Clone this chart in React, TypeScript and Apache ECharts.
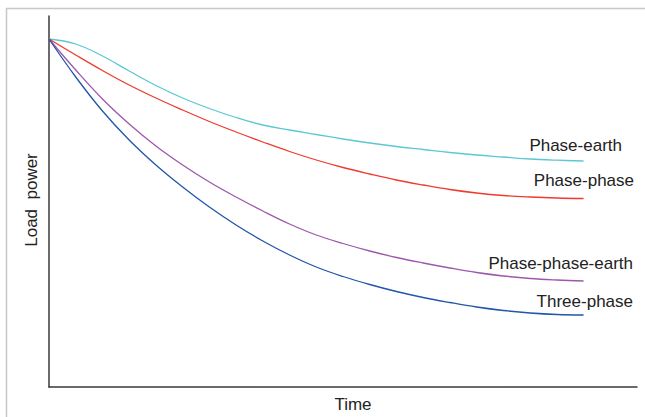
import React, { useEffect, useRef } from "react";
import * as echarts from "echarts";

const timeValues = [0, 5, 10, 15, 20, 25, 30, 35, 40, 45, 50, 55, 60, 65, 70, 75, 80, 85, 90, 95, 100];
const phaseEarth = [348, 343, 331, 316, 301.5, 289, 278.5, 269.5, 262, 257, 252.5, 248, 244, 240.5, 237.5, 234.5, 232, 230, 228, 226.8, 226];
const phasePhase = [348, 332, 316.5, 302, 289, 277, 265.5, 255, 245, 235.5, 227, 219.5, 213, 207, 202, 197.5, 194, 191.5, 190, 189, 188.5];
const phasePhaseEarth = [348, 317, 288, 263, 241, 222, 205, 190, 176, 163, 152, 143.5, 136, 129.5, 124, 119, 114.5, 111, 108.5, 107, 106];
const threePhase = [348, 310, 276, 247, 222, 200, 180, 162, 146, 132, 120, 110.5, 102.5, 95.5, 89.5, 84.5, 80, 76.5, 74, 72.5, 72];

const seriesNames = ["Phase-earth", "Phase-phase", "Phase-phase-earth", "Three-phase"];
const seriesColors = ["#5cc8d4", "#ef3b2e", "#9d58ad", "#2156a8"];
const seriesValues = [phaseEarth, phasePhase, phasePhaseEarth, threePhase];

export default function App() {
  const ref = useRef<HTMLDivElement>(null);
  useEffect(() => {
    if (!ref.current) return;
    const chart = echarts.init(ref.current, null, { renderer: "svg" });
    const font = "'Liberation Sans', Arial, sans-serif";
    const labelPos = [
      { x: 622, y: 145 },
      { x: 634, y: 180 },
      { x: 633, y: 263 },
      { x: 633, y: 301 },
    ];
    chart.setOption({
      animation: false,
      backgroundColor: "#ffffff",
      grid: { left: 49, right: 8, top: 16, bottom: 30, containLabel: false },
      xAxis: {
        type: "value",
        min: 0,
        max: 110,
        axisLine: { show: true, lineStyle: { color: "#3a3a3a", width: 1.5 } },
        axisTick: { show: false },
        axisLabel: { show: false },
        splitLine: { show: false },
      },
      yAxis: {
        type: "value",
        min: 0,
        max: 371,
        axisLine: { show: true, lineStyle: { color: "#3a3a3a", width: 1.5 } },
        axisTick: { show: false },
        axisLabel: { show: false },
        splitLine: { show: false },
      },
      series: seriesNames.map((name, i) => ({
        name,
        type: "line",
        smooth: 0.4,
        showSymbol: false,
        symbol: "none",
        lineStyle: { color: seriesColors[i], width: 1.3 },
        data: timeValues.map((t, j) => [t, seriesValues[i][j]]),
      })),
      graphic: [
        { type: "line", shape: { x1: 6, y1: 8.5, x2: 645, y2: 8.5 }, style: { stroke: "#c8c8c8", lineWidth: 1.5 } },
        { type: "line", shape: { x1: 6.5, y1: 8, x2: 6.5, y2: 417 }, style: { stroke: "#c8c8c8", lineWidth: 1.5 } },
        ...seriesNames.map((name, i) => ({
          type: "text",
          x: labelPos[i].x,
          y: labelPos[i].y,
          style: {
            text: name,
            fill: "#222222",
            font: `17px ${font}`,
            textAlign: "right",
            textVerticalAlign: "middle",
          },
        })),
        {
          type: "text",
          x: 353,
          y: 404,
          style: { text: "Time", fill: "#222222", font: `17px ${font}`, textAlign: "center", textVerticalAlign: "middle" },
        },
        {
          type: "text",
          x: 31,
          y: 200,
          rotation: Math.PI / 2,
          style: { text: "Load  power", fill: "#222222", font: `17px ${font}`, textAlign: "center", textVerticalAlign: "middle" },
        },
      ],
    });
    return () => chart.dispose();
  }, []);
  return (
    <div
      ref={ref}
      style={{ position: "fixed", left: 0, top: 0, width: 645, height: 417 }}
    />
  );
}
